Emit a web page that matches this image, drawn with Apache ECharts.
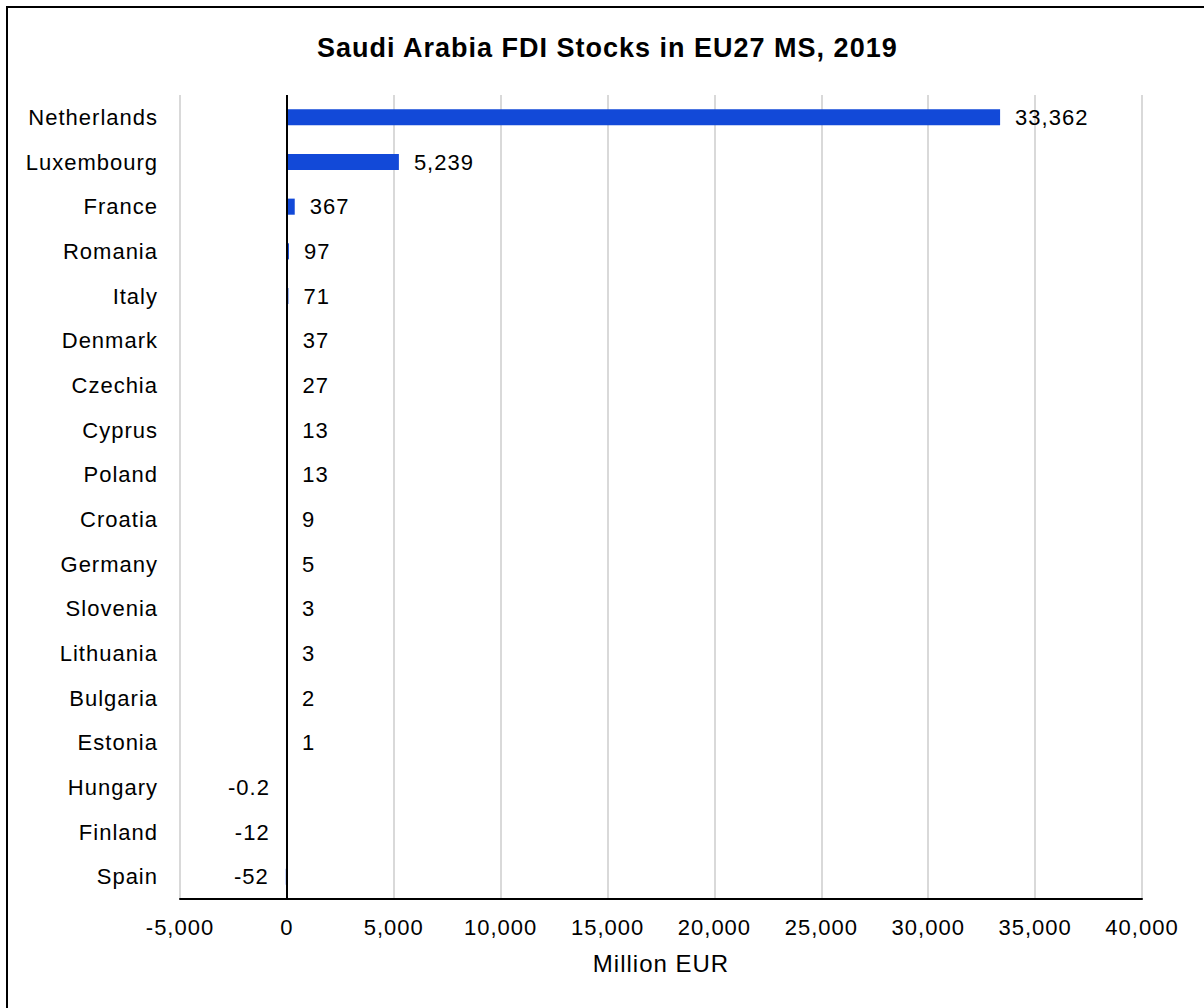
<!DOCTYPE html>
<html>
<head>
<meta charset="utf-8">
<title>Saudi Arabia FDI Stocks in EU27 MS, 2019</title>
<script src="https://cdn.jsdelivr.net/npm/echarts@6/dist/echarts.min.js"></script>
<style>
  html, body { margin: 0; padding: 0; background: #fff; }
  #chart { width: 1204px; height: 1008px; }
  /* slightly airy type, as in the house chart style */
  #chart text { letter-spacing: 1px; }
</style>
</head>
<body>
<div id="chart"></div>
<script>
// FDI stock by member state, million EUR
const countries = [
  'Netherlands', 'Luxembourg', 'France', 'Romania', 'Italy', 'Denmark',
  'Czechia', 'Cyprus', 'Poland', 'Croatia', 'Germany', 'Slovenia',
  'Lithuania', 'Bulgaria', 'Estonia', 'Hungary', 'Finland', 'Spain'
];
const stocks = [
  33362, 5239, 367, 97, 71, 37,
  27, 13, 13, 9, 5, 3,
  3, 2, 1, -0.2, -12, -52
];
const xTicks = { min: -5000, max: 40000, interval: 5000 };

const fmt = v => v.toLocaleString('en-US');
const FONT = '"Liberation Sans", Arial, sans-serif';

const chart = echarts.init(document.getElementById('chart'), null, { renderer: 'svg' });
chart.setOption({
  backgroundColor: '#ffffff',
  animation: false,
  graphic: [{
    type: 'rect',
    shape: { x: 7, y: 7, width: 1300, height: 1100 },
    style: { fill: 'none', stroke: '#000', lineWidth: 2 },
    silent: true
  }],
  title: {
    text: 'Saudi Arabia FDI Stocks in EU27 MS, 2019',
    left: 312,
    top: 29,
    textStyle: { fontFamily: FONT, fontSize: 27, fontWeight: 'bold', color: '#000' }
  },
  grid: { left: 180, right: 62, top: 95, bottom: 109, containLabel: false },
  xAxis: {
    type: 'value',
    min: xTicks.min,
    max: xTicks.max,
    interval: xTicks.interval,
    name: 'Million EUR',
    nameLocation: 'middle',
    nameGap: 52,
    nameTextStyle: { fontFamily: FONT, fontSize: 24, color: '#000' },
    axisLine: { show: true, onZero: false, lineStyle: { color: '#000', width: 2 } },
    axisTick: { show: false },
    axisLabel: { fontFamily: FONT, fontSize: 22, color: '#000', margin: 17, formatter: v => fmt(v) },
    splitLine: { show: true, lineStyle: { color: '#d9d9d9', width: 2 } }
  },
  yAxis: {
    type: 'category',
    data: countries,
    inverse: true,
    axisLine: { show: false },
    axisTick: { show: false },
    axisLabel: { fontFamily: FONT, fontSize: 22, color: '#000', margin: 22 },
    splitLine: { show: false }
  },
  series: [{
    type: 'bar',
    barWidth: '36%',
    itemStyle: { color: '#1249d8' },
    data: stocks.map(v => ({
      value: v,
      label: {
        position: v < 0 ? 'left' : 'right',
        distance: v < 0 ? 17 : 15
      }
    })),
    label: {
      show: true,
      fontFamily: FONT,
      fontSize: 22,
      color: '#000',
      formatter: p => fmt(p.value)
    },
    markLine: {
      silent: true,
      symbol: 'none',
      label: { show: false },
      lineStyle: { color: '#000', width: 2, type: 'solid' },
      data: [{ xAxis: 0 }]
    }
  }]
});
</script>
</body>
</html>
